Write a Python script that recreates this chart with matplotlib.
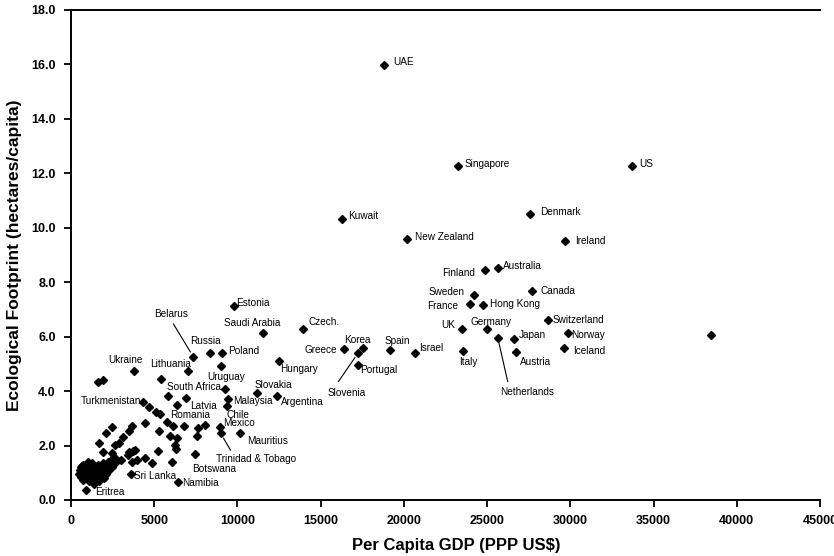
import matplotlib.pyplot as plt

plt.rcParams['font.family'] = ['Liberation Sans', 'DejaVu Sans']

### DATA ###

# Named countries: per capita GDP (PPP US$) and ecological footprint (ha/capita)
countries = ['UAE', 'Singapore', 'US', 'Denmark', 'Kuwait', 'New Zealand', 'Ireland',
             'Finland', 'Australia', 'Canada', 'Sweden', 'France', 'Hong Kong',
             'Switzerland', 'UK', 'Germany', 'Netherlands', 'Japan', 'Norway', 'Iceland',
             'Austria', 'Italy', 'Israel', 'Spain', 'Korea', 'Slovenia', 'Portugal',
             'Greece', 'Hungary', 'Czech.', 'Saudi Arabia', 'Estonia', 'Belarus',
             'Russia', 'Poland', 'Ukraine', 'Lithuania', 'Uruguay', 'South Africa',
             'Slovakia', 'Argentina', 'Malaysia', 'Turkmenistan', 'Latvia', 'Romania',
             'Chile', 'Mexico', 'Trinidad & Tobago', 'Mauritius', 'Botswana', 'Namibia',
             'Sri Lanka', 'Eritrea']
gdp = [18800, 23250, 33700, 27580, 16280, 20190, 29680,
       24870, 25650, 27700, 24210, 23970, 24750,
       28660, 23490, 25010, 25640, 26620, 29880, 29620,
       26720, 23570, 20690, 19170, 17530, 17260, 17230,
       16380, 12480, 13940, 11550, 9810, 7350,
       8350, 9050, 3800, 7050, 8990, 9270,
       11190, 12360, 9410, 4310, 6350, 6810,
       9350, 8950, 8990, 10150, 7450, 6410,
       3590, 900]
footprint = [15.98, 12.27, 12.27, 10.51, 10.32, 9.59, 9.51,
             8.45, 8.52, 7.68, 7.53, 7.20, 7.16,
             6.61, 6.28, 6.27, 5.96, 5.90, 6.15, 5.60,
             5.45, 5.48, 5.41, 5.51, 5.57, 5.41, 4.96,
             5.54, 5.11, 6.27, 6.15, 7.13, 5.26,
             5.39, 5.41, 4.75, 4.75, 4.92, 4.07,
             3.94, 3.82, 3.71, 3.61, 3.49, 2.72,
             3.46, 2.69, 2.45, 2.45, 1.68, 0.67,
             0.96, 0.37]

# Countries drawn without a label
other_gdp = [38450, 1620, 1920, 5410, 5850, 6890, 4700, 5080, 5320, 5750, 6150,
             7650, 8080, 4450, 5300, 5950, 6370, 7550, 6250, 6280, 3850, 5250,
             4450, 4850, 6040, 3950, 3420, 3650, 3500, 2440, 2100, 1700, 3140,
             2900, 2640, 1940, 3500, 3740, 2440, 3000, 2540, 2340, 3650, 2460,
             500, 550, 600, 650, 700, 750, 800, 850, 900, 950, 1000, 1050, 1100,
             1150, 1200, 1250, 1300, 1350, 1400, 1450, 1500, 1550, 1600, 1650,
             1700, 1750, 1800, 1850, 1900, 1950, 2000, 2050, 2100, 2150, 2200,
             2250, 2350, 2450, 2550, 2650, 2750, 700, 1000, 600, 1250, 1700]
other_fp = [6.06, 4.34, 4.39, 4.45, 3.82, 3.75, 3.41, 3.23, 3.16, 2.88, 2.72,
            2.63, 2.77, 2.84, 2.52, 2.34, 2.26, 2.34, 2.02, 1.89, 1.84, 1.80,
            1.53, 1.37, 1.38, 1.47, 1.65, 2.72, 2.55, 2.69, 2.47, 2.11, 2.30,
            2.11, 2.02, 1.75, 1.75, 1.81, 1.71, 1.47, 1.37, 1.29, 1.41, 1.21,
            0.95, 1.10, 0.85, 1.25, 0.75, 1.00, 1.15, 0.90, 1.30, 0.80, 1.05, 1.20,
            0.70, 0.95, 1.10, 1.35, 0.85, 1.00, 0.60, 1.20, 0.90, 1.05, 1.30, 0.75,
            1.10, 0.95, 1.20, 0.85, 1.00, 1.35, 0.80, 1.15, 0.95, 1.25, 1.05,
            1.40, 1.20, 1.50, 1.30, 1.55, 1.45, 1.30, 1.40, 1.20, 0.75, 0.70]

x_ticks = [0, 5000, 10000, 15000, 20000, 25000, 30000, 35000, 40000, 45000]
y_ticks = [0, 2, 4, 6, 8, 10, 12, 14, 16, 18]

### LABEL LAYOUT ###

# (dx, dy, ha) in pixels from the marker
label_pos = {
    'UAE': (9, 3, 'left'), 'Singapore': (7, 2, 'left'), 'US': (7, 2, 'left'),
    'Denmark': (10, 2, 'left'), 'Kuwait': (6, 3, 'left'), 'New Zealand': (8, 2, 'left'),
    'Ireland': (10, 0, 'left'), 'Finland': (-10, -3, 'right'), 'Australia': (5, 2, 'left'),
    'Canada': (8, 0, 'left'), 'Sweden': (-9, 3, 'right'), 'France': (-12, -2, 'right'),
    'Hong Kong': (7, 1, 'left'), 'Switzerland': (5, 0, 'left'), 'UK': (-7, 4, 'right'),
    'Germany': (-17, 7, 'left'), 'Netherlands': (29, -54, 'center'), 'Japan': (5, 4, 'left'),
    'Norway': (3, -2, 'left'), 'Iceland': (9, -3, 'left'), 'Austria': (4, -10, 'left'),
    'Italy': (-4, -11, 'left'), 'Israel': (4, 5, 'left'), 'Spain': (7, 9, 'center'),
    'Korea': (-5, 8, 'center'), 'Slovenia': (-12, -40, 'center'), 'Portugal': (2, -5, 'left'),
    'Greece': (-7, -1, 'right'), 'Hungary': (1, -8, 'left'), 'Czech.': (5, 7, 'left'),
    'Saudi Arabia': (-11, 10, 'center'), 'Estonia': (2, 3, 'left'), 'Belarus': (-22, 43, 'center'),
    'Russia': (-5, 12, 'center'), 'Poland': (6, 2, 'left'), 'Ukraine': (-9, 11, 'center'),
    'Lithuania': (-18, 7, 'center'), 'Uruguay': (5, -11, 'center'), 'South Africa': (-4, 2, 'right'),
    'Slovakia': (16, 8, 'center'), 'Argentina': (4, -6, 'left'), 'Malaysia': (6, -2, 'left'),
    'Turkmenistan': (-2, 1, 'right'), 'Latvia': (13, -1, 'left'), 'Romania': (6, 11, 'center'),
    'Chile': (0, -9, 'left'), 'Mexico': (3, 4, 'left'), 'Trinidad & Tobago': (-5, -26, 'left'),
    'Mauritius': (7, -8, 'left'), 'Botswana': (-3, -15, 'left'), 'Namibia': (4, -1, 'left'),
    'Sri Lanka': (3, -2, 'left'), 'Eritrea': (9, -2, 'left'),
}

# leader lines: start offset (pixels) from the marker
leaders = {'Belarus': (-20, 33), 'Slovenia': (-20, -29),
           'Netherlands': (10, -44), 'Trinidad & Tobago': (10, -17)}

### PLOT ###

fig = plt.figure(figsize=(8.34, 5.56), dpi=100)
ax = fig.add_axes([71/834, 56/556, 749/834, 490/556])

ax.plot(other_gdp, other_fp, linestyle='none', marker='D', ms=4.2, color='black')
ax.plot(gdp, footprint, linestyle='none', marker='D', ms=4.2, color='black')

for name, x, y in zip(countries, gdp, footprint):
    dx, dy, ha = label_pos[name]
    ax.annotate(name, xy=(x, y), xytext=(dx, dy), textcoords='offset pixels',
                ha=ha, va='center', fontsize=7.2, color='black')
    if name in leaders:
        ax.annotate('', xy=(x, y), xytext=leaders[name], textcoords='offset pixels',
                    arrowprops=dict(arrowstyle='-', color='black', lw=0.8,
                                    shrinkA=0, shrinkB=4))

ax.set_xlim(0, 45000)
ax.set_ylim(0, 18)
ax.set_xticks(x_ticks)
ax.set_xticklabels([str(t) for t in x_ticks])
ax.set_yticks(y_ticks)
ax.set_yticklabels([f'{t:.1f}' for t in y_ticks])

# narrow bold digits for the tick labels
for lab in ax.get_xticklabels() + ax.get_yticklabels():
    lab.set_family(['Liberation Sans Narrow', 'Liberation Sans'])
    lab.set_fontweight('bold')
    lab.set_fontsize(9)

ax.tick_params(direction='out', length=5, width=1.3, pad=6)

for edge in ['left', 'bottom', 'top']:
    ax.spines[edge].set_linewidth(1.4)
ax.spines['right'].set_visible(False)

ax.set_xlabel('Per Capita GDP (PPP US$)', fontsize=12, fontweight='bold')
ax.set_ylabel('Ecological Footprint (hectares/capita)', fontsize=12.5, fontweight='bold')
ax.xaxis.set_label_coords(0.514, -0.078)
ax.yaxis.set_label_coords(-0.066, 0.5)

fig.savefig('out.png', dpi=100)
plt.close(fig)
